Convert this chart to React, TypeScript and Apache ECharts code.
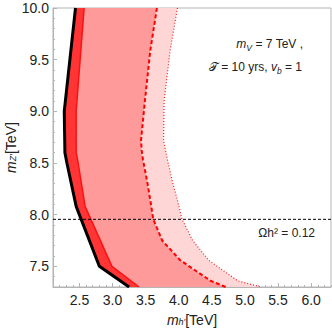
import React, { useEffect, useRef } from 'react';
import * as echarts from 'echarts';

// Boundary curves: m_Z' values (TeV) and matching m_h' values (TeV)
const mzBoundary = [10.0, 9.0, 8.6, 8.5, 8.08, 7.5, 7.3];
const blackMh = [2.44, 2.27, 2.28, 2.31, 2.45, 2.8, 3.25];
const redMh = [2.57, 2.45, 2.45, 2.48, 2.585, 2.99, 3.4];
const mzDashed = [10.0, 9.59, 9.11, 8.72, 8.62, 8.53, 8.33, 8.14, 7.955, 7.75, 7.56, 7.36, 7.3];
const dashedMh = [3.67, 3.57, 3.49, 3.43, 3.44, 3.46, 3.52, 3.57, 3.615, 3.75, 4.02, 4.48, 4.71];
const mzDotted = [10.0, 9.59, 9.11, 8.72, 8.53, 8.33, 8.14, 7.955, 7.75, 7.56, 7.36, 7.3];
const dottedMh = [3.98, 3.87, 3.78, 3.77, 3.83, 3.9, 3.98, 4.05, 4.21, 4.45, 4.89, 5.24];
const relicMz = 7.955;
const xRange = [2.1, 6.3];
const yRange = [7.3, 10.0];
const xTicks = [2.5, 3.0, 3.5, 4.0, 4.5, 5.0, 5.5, 6.0];
const yTicks = [7.5, 8.0, 8.5, 9.0, 9.5, 10.0];

const FONT = '"Liberation Sans", Arial, sans-serif';

const zip = (xs: number[], ys: number[]) => xs.map((x, i) => [x, ys[i]]);

const black = zip(blackMh, mzBoundary);
const red = zip(redMh, mzBoundary);
const dashed = zip(dashedMh, mzDashed);
const dotted = zip(dottedMh, mzDotted);

const band = (a: number[][], b: number[][], color: string) => ({
  type: 'custom',
  silent: true,
  clip: true,
  data: [[xRange[0], yRange[0]]],
  renderItem: (_p: any, api: any) => {
    const pts = [...a, ...b.slice().reverse()].map((p) => api.coord(p));
    return { type: 'polygon', shape: { points: pts }, style: { fill: color } };
  },
});

const line = (data: number[][], color: string, width: number, type: any) => ({
  type: 'line',
  data,
  showSymbol: false,
  symbol: 'none',
  silent: true,
  lineStyle: { color, width, type },
});

export default function App() {
  const ref = useRef<HTMLDivElement>(null);
  useEffect(() => {
    if (!ref.current) return;
    const chart = echarts.init(ref.current, undefined, { renderer: 'svg' });
    const gray = '#b4b4b4';
    const minorAxis = (pos: string, range: number[]) => ({
      type: 'value',
      position: pos,
      min: range[0],
      max: range[1],
      interval: 0.1,
      axisLine: { show: true, lineStyle: { color: gray, width: 1 } },
      axisTick: { show: true, inside: true, length: 2, lineStyle: { color: gray } },
      axisLabel: { show: false },
      splitLine: { show: false },
    });
    const majorAxis = (pos: string, range: number[], ticks: number[]) => ({
      type: 'value',
      position: pos,
      min: range[0],
      max: range[1],
      axisLine: { show: false },
      axisTick: { show: true, inside: true, length: 4, customValues: ticks, lineStyle: { color: gray } },
      axisLabel: {
        show: true,
        customValues: ticks,
        formatter: (v: number) => v.toFixed(1),
        fontFamily: FONT,
        fontSize: 14,
        color: '#222',
        margin: pos === 'left' ? 4 : 6,
      },
      splitLine: { show: false },
    });
    const nameRich = {
      i: { fontFamily: FONT, fontSize: 14, fontStyle: 'italic', color: '#222', lineHeight: 12 },
      s: { fontFamily: FONT, fontSize: 9, fontStyle: 'italic', color: '#222', lineHeight: 5, verticalAlign: 'bottom' },
      n: { fontFamily: FONT, fontSize: 14, color: '#222', lineHeight: 12 },
    };
    const annRich = {
      i: { fontFamily: FONT, fontSize: 12, fontStyle: 'italic', fill: '#222', lineHeight: 16 },
      s: { fontFamily: FONT, fontSize: 8.5, fontStyle: 'italic', fill: '#222', lineHeight: 8, verticalAlign: 'bottom' },
      n: { fontFamily: FONT, fontSize: 12, fill: '#222', lineHeight: 16 },
    };
    const annText = (text: string, x: number, y: number) => ({
      type: 'text',
      x,
      y,
      silent: true,
      style: {
        text,
        rich: annRich,
        font: `12px ${FONT}`,
        fill: '#222',
        align: 'right',
        verticalAlign: 'middle',
        textAlign: 'right',
        textVerticalAlign: 'middle',
      },
    });
    chart.setOption({
      animation: false,
      backgroundColor: '#fff',
      grid: {
        left: 53,
        right: 1,
        top: 8,
        bottom: 41,
        containLabel: false,
        outerBoundsMode: 'none',
        show: true,
        borderColor: gray,
        borderWidth: 1,
      },
      xAxis: [
        minorAxis('bottom', xRange),
        {
          ...majorAxis('bottom', xRange, xTicks),
          name: "{i|m}{s|h′}{n|[TeV]}",
          nameLocation: 'middle',
          nameGap: 27,
          nameMoveOverlap: false,
          nameTextStyle: { fontFamily: FONT, fontSize: 14, rich: nameRich },
        },
      ],
      yAxis: [
        minorAxis('left', yRange),
        {
          ...majorAxis('left', yRange, yTicks),
          name: "{i|m}{s|Z′}{n|[TeV]}",
          nameLocation: 'middle',
          nameGap: 36,
          nameMoveOverlap: false,
          nameTextStyle: { fontFamily: FONT, fontSize: 14, rich: nameRich },
        },
      ],
      series: [
        band(dashed, dotted, '#ffd6d6'),
        band(red, dashed, '#ff9a9a'),
        band(black, red, '#ff3535'),
        line(red, '#ff1010', 1.5, 'solid'),
        line(black, '#000', 3, 'solid'),
        line(dashed, '#ff0000', 2, [4, 2.5]),
        line(dotted, '#ff2020', 1.2, [1, 2]),
        line([[xRange[0], relicMz], [xRange[1], relicMz]], '#000', 1, [3, 2]),
      ],
      graphic: [
        annText('{i|m}{s|V}{n| = 7 TeV ,}', 303, 44),
        annText('{n|𝒯 = 10 yrs, }{i|v}{s|b}{n| = 1}', 302, 67),
        annText('{n|Ωh² = 0.12}', 315, 233),
      ],
    });
    return () => chart.dispose();
  }, []);
  return (
    <div
      ref={ref}
      style={{ position: 'fixed', left: 0, top: 0, width: 332, height: 328, background: '#fff' }}
    />
  );
}
